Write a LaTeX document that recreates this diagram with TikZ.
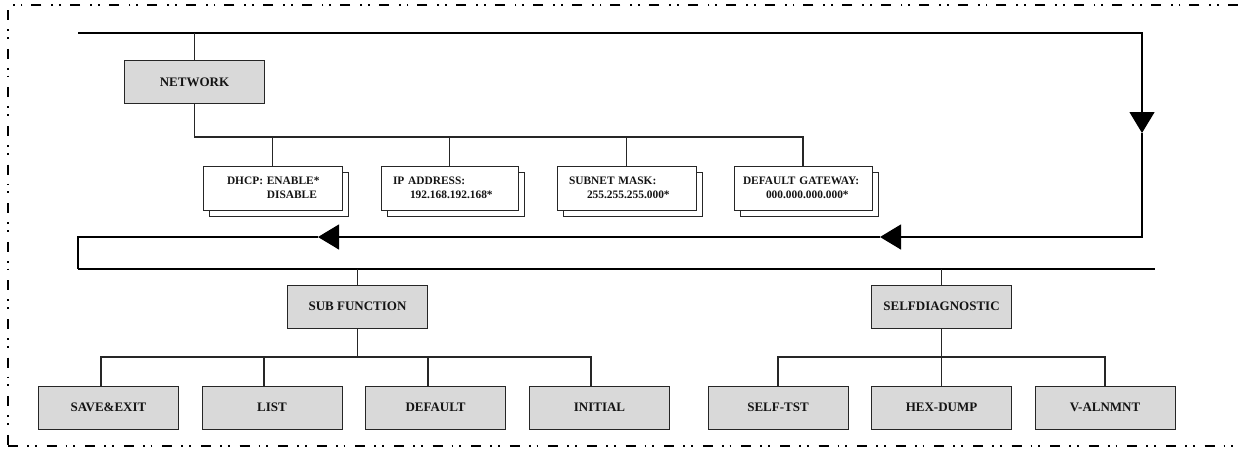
\documentclass[tikz,border=0pt]{standalone}
\usepackage{fontspec}
\setmainfont{Liberation Serif}
\usetikzlibrary{arrows.meta,shadows}
\definecolor{boxgray}{HTML}{D9D9D9}
\definecolor{ln}{HTML}{262626}
\definecolor{txt}{HTML}{141414}
\begin{document}
\begin{tikzpicture}[x=1pt,y=-1pt,
  bigbox/.style={draw=ln, line width=1pt, fill=boxgray, minimum width=140pt, minimum height=43pt,
    inner sep=0pt, text=txt, font=\fontsize{13}{14}\selectfont\bfseries},
  smallbox/.style={draw=ln, line width=1pt, fill=white, minimum height=44pt, inner ysep=0pt,
    align=left, text=txt, font=\fontsize{11.4}{14}\selectfont\bfseries,
    copy shadow={shadow xshift=6pt, shadow yshift=-6pt}},
  conn/.style={draw=ln, line width=1.1pt},
  flow/.style={draw=black, line width=1.3pt},
  bigtip/.style={-{Triangle[length=21pt,width=25pt]}},
  border/.style={draw=black, dash pattern=on 10pt off 9pt on 1.8pt off 6pt on 1.8pt off 10pt}
]
\useasboundingbox (0,0) rectangle (1238,448);

% outer dash-dot-dot frame
\draw[border, line width=1.6pt] (1238,5) -- (8,5) -- (8,446);
\draw[border, line width=2.8pt] (8,446) -- (1238,446);

% loop coordinates
\coordinate (tl) at (78,33);
\coordinate (tr) at (1142,33);
\coordinate (a1) at (1142,133);
\coordinate (br) at (1142,237);
\coordinate (a2) at (880,237);
\coordinate (a3) at (318,237);
\coordinate (bl) at (78,237);
\coordinate (thl) at (78,269);
\coordinate (thr) at (1155,269);
\coordinate (nbus) at (195,137);
\coordinate (sbus) at (101,357);
\coordinate (dbus) at (777,357);

% loop
\draw[flow, bigtip] (tl) -- (tr) -- (a1);
\draw[flow, bigtip] (a1) -- (br) -- (a2);
\draw[flow, bigtip] (a2) -- (a3);
\draw[flow] (a3) -- (bl) -- (thl);
\draw[draw=black, line width=2.6pt] (thl) -- (thr);

% network branch
\node[bigbox] (net) at (194.5,82) {NETWORK};
\node[smallbox, inner xsep=24pt, text width=91pt] (dhcp) at (272.5,188)
  {\mbox{DHCP: ENABLE*}\\\mbox{\phantom{DHCP: }DISABLE}};
\node[smallbox, inner xsep=12pt, text width=113pt] (ip) at (449.5,188)
  {\mbox{IP ADDRESS:}\\\mbox{\hspace*{17pt}192.168.192.168*}};
\node[smallbox, inner xsep=12pt, text width=115pt] (sub) at (626.5,188)
  {\mbox{SUBNET MASK:}\\\mbox{\hspace*{18pt}255.255.255.000*}};
\node[smallbox, inner xsep=9pt, text width=120pt] (gw) at (803,188)
  {\mbox{DEFAULT GATEWAY:}\\\mbox{\hspace*{23pt}000.000.000.000*}};

\draw[conn] (net.north) -- (net.north |- tl);
\draw[conn] (net.south) |- (gw.north |- nbus) -- (gw.north);
\draw[conn] (dhcp.north) -- (dhcp.north |- nbus);
\draw[conn] (ip.north) -- (ip.north |- nbus);
\draw[conn] (sub.north) -- (sub.north |- nbus);

% sub function branch
\node[bigbox] (sf) at (357.5,306.5) {SUB FUNCTION};
\node[bigbox] (save) at (108.5,407.5) {SAVE\&EXIT};
\node[bigbox] (list) at (272,407.5) {LIST};
\node[bigbox] (def) at (435.5,407.5) {DEFAULT};
\node[bigbox] (ini) at (599.5,407.5) {INITIAL};

\draw[conn] (sf.north) -- (sf.north |- thl);
\draw[conn] (sf.south) -- (sf.south |- sbus);
\draw[conn] ([xshift=-7.5pt]save.north) |- ([xshift=-8.5pt]ini.north |- sbus) -- ([xshift=-8.5pt]ini.north);
\draw[conn] ([xshift=-8pt]list.north) -- ([xshift=-8pt]list.north |- sbus);
\draw[conn] ([xshift=-7.5pt]def.north) -- ([xshift=-7.5pt]def.north |- sbus);

% self diagnostic branch
\node[bigbox] (sd) at (941.5,306.5) {SELFDIAGNOSTIC};
\node[bigbox] (st) at (778,407.5) {SELF-TST};
\node[bigbox] (hex) at (941.5,407.5) {HEX-DUMP};
\node[bigbox] (va) at (1105,407.5) {V-ALNMNT};

\draw[conn] (sd.north) -- (sd.north |- thl);
\draw[conn] (sd.south) -- (hex.north);
\draw[conn] (st.north) |- (va.north |- dbus) -- (va.north);
\end{tikzpicture}
\end{document}
